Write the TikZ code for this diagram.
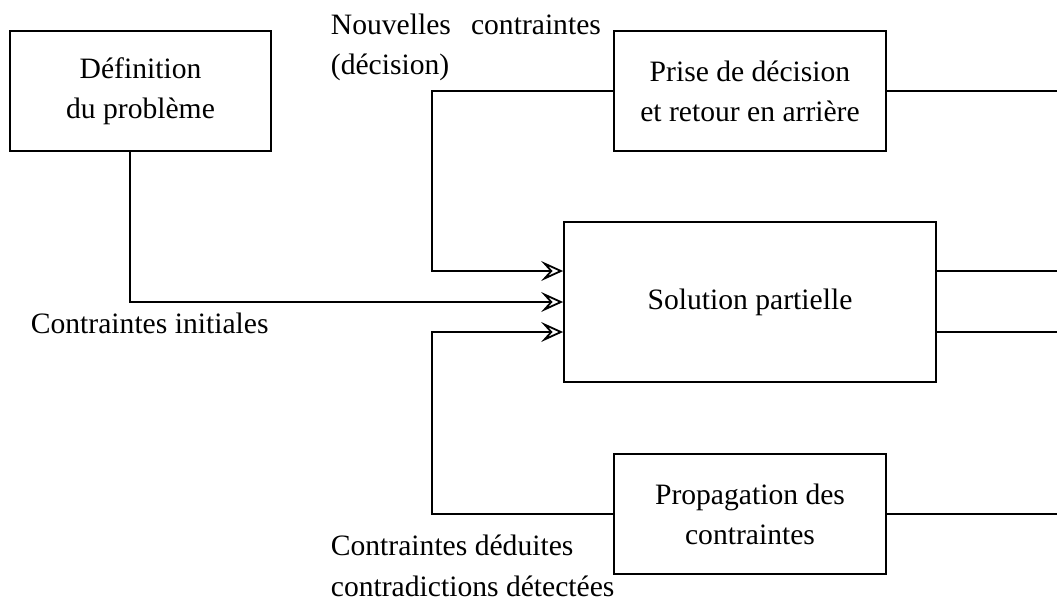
\documentclass[tikz,border=0pt]{standalone}
\usepackage{fontspec}
\setmainfont{Liberation Serif}
\usetikzlibrary{arrows.meta}
\begin{document}
\begin{tikzpicture}[x=1pt, y=-1pt, line width=1.8pt,
  every node/.style={font=\fontsize{29.6}{40}\selectfont},
  box/.style={draw, inner sep=0pt, align=center},
  lbl/.style={inner sep=0pt},
  arr/.style={-{Stealth[open, length=22pt, width=20pt, inset=9pt, line width=1.8pt]}}]
\useasboundingbox (0,0) rectangle (1057,603);

% processing blocks
\node[box, minimum width=261pt, minimum height=120pt] (def)  at (140.5,91) {Définition\\du problème};
\node[box, minimum width=272pt, minimum height=120pt] (prise) at (750,91)  {Prise de décision\\et retour en arrière};
\node[box, minimum width=372pt, minimum height=160pt] (sol)  at (750,302) {Solution partielle};
\node[box, minimum width=272pt, minimum height=120pt] (prop) at (750,514) {Propagation des\\contraintes};

% bend points and free ends
\coordinate (d0) at (130,151);
\coordinate (k1) at (432,271);
\coordinate (k3) at (432,332);
\coordinate (edge) at (1057,0);

% inputs of the partial solution
\draw[arr] (d0) |- (sol.west);
\draw[arr] (prise.west) -| (k1) -- (k1 -| sol.west);
\draw[arr] (prop.west) -| (k3) -- (k3 -| sol.west);

% outputs leaving to the right
\draw (prise.east) -- (prise.east -| edge);
\draw (sol.east |- k1) -- (edge |- k1);
\draw (sol.east |- k3) -- (edge |- k3);
\draw (prop.east) -- (prop.east -| edge);

% flow labels
\node[lbl, anchor=base west] (n1) at (330,34) {\hbox to 270pt{Nouvelles\hfill contraintes}};
\node[lbl, anchor=base west] (n2) at (330,74) {(décision)};
\node[lbl, anchor=base west] (ci) at (30,333) {Contraintes initiales};
\node[lbl, anchor=base west] (cd1) at (330,555) {Contraintes déduites};
\node[lbl, anchor=base west] (cd2) at (330,596) {contradictions détectées};
\end{tikzpicture}
\end{document}
